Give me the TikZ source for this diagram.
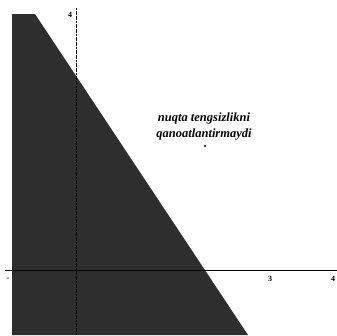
\documentclass[tikz,border=0pt]{standalone}
\usepackage{fontspec}
\setmainfont{Liberation Serif}
\begin{document}
\begin{tikzpicture}[x=1pt,y=-1pt,
  axis/.style={line width=0.9pt,black},
  yaxis/.style={line width=0.7pt,black,dash pattern=on 2pt off 0.6pt},
  lbl/.style={font=\fontsize{8}{9}\selectfont\bfseries,inner sep=0pt},
  note/.style={font=\fontsize{12.5}{16}\selectfont\itshape\bfseries,inner sep=0pt,align=center}]
\useasboundingbox (0,0) rectangle (337,335);
\fill[black!82] (12,14) -- (35,14) -- (248,335) -- (12,335) -- cycle;
\coordinate (xl) at (5,270);
\coordinate (xr) at (337,270);
\coordinate (yt) at (76,8);
\coordinate (yb) at (76,335);
\draw[axis] (xl) -- (xr);
\draw[yaxis] (yt) -- (yb);
\node[lbl] (y4) at (70,15) {4};
\node[lbl] (x3) at (270,279) {3};
\node[lbl] (x4) at (333,279) {4};
\node[lbl] (xm) at (8,279) {-};
\node[note] (t) at (204,127) {nuqta tengsizlikni\\qanoatlantirmaydi};
\fill (205,146) circle (1.1pt);
\end{tikzpicture}
\end{document}
